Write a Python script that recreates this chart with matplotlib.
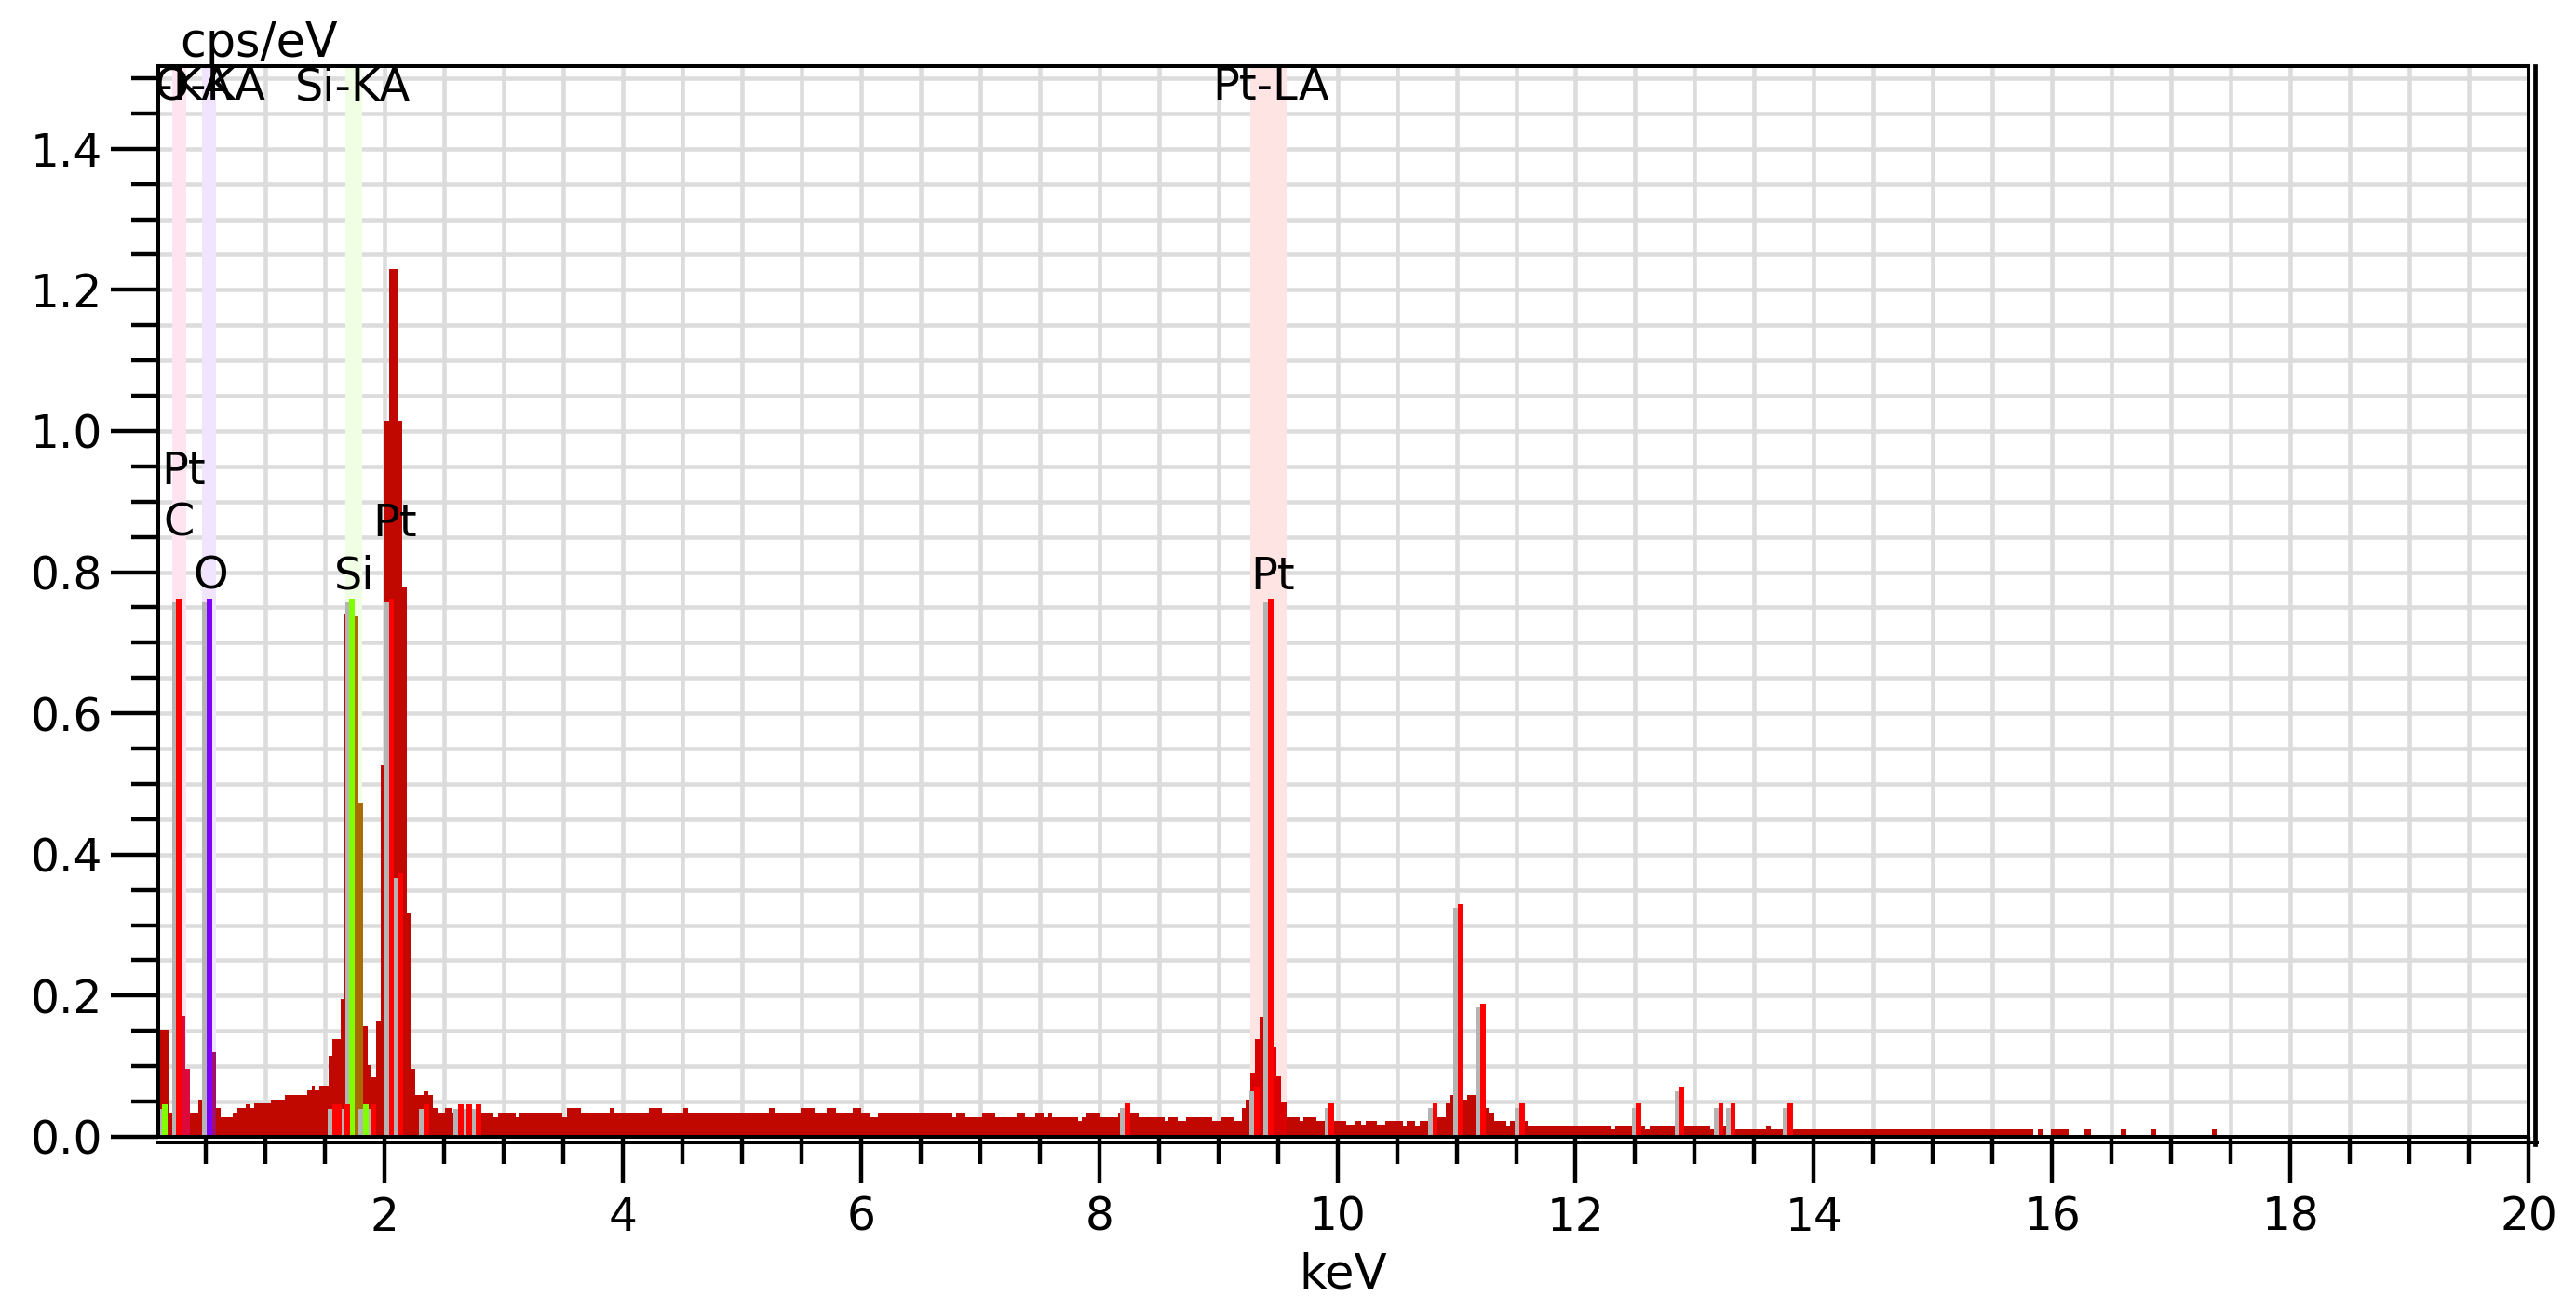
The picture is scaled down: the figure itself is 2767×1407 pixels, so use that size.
import numpy as np
import matplotlib
matplotlib.use("Agg")
import matplotlib.pyplot as plt
from matplotlib.lines import Line2D

plt.rcParams['font.family'] = ['DejaVu Sans']

# EDS spectrum (keV edges, cps/eV)
spec_edges = [0.100, 0.184, 0.218, 0.296, 0.330, 0.366, 0.439, 0.470, 0.556, 0.587,
              0.620, 0.724, 0.763, 0.833, 0.875, 0.906, 1.049, 1.166, 1.347, 1.386,
              1.412, 1.456, 1.529, 1.563, 1.633, 1.667, 1.750, 1.783, 1.822, 1.861,
              1.892, 1.926, 1.965, 1.997, 2.035, 2.105, 2.150, 2.186, 2.225, 2.261,
              2.329, 2.365, 2.406, 2.443, 2.510, 2.573, 2.910, 2.950, 3.100, 3.130,
              3.490, 3.530, 3.650, 3.890, 3.930, 4.220, 4.330, 4.510, 4.550, 5.230,
              5.280, 5.490, 5.610, 5.710, 5.790, 5.930, 6.000, 6.070, 6.140, 6.770,
              6.800, 6.880, 7.020, 7.130, 7.310, 7.380, 7.460, 7.530, 7.570, 7.600,
              7.820, 7.850, 7.890, 8.010, 8.160, 8.330, 8.550, 8.580, 8.660, 8.730,
              8.950, 9.020, 9.130, 9.200, 9.230, 9.266, 9.305, 9.350, 9.377, 9.460,
              9.490, 9.530, 9.573, 9.680, 9.710, 9.820, 9.890, 10.070, 10.140, 10.200,
              10.240, 10.330, 10.400, 10.550, 10.580, 10.650, 10.690, 10.840, 10.910, 10.950,
              11.057, 11.090, 11.240, 11.270, 11.320, 11.420, 11.450, 11.600, 12.290, 12.330,
              12.580, 12.620, 13.130, 13.160, 13.340, 13.600, 13.640, 15.840, 15.880, 15.920,
              15.990, 16.140, 16.260, 16.330, 16.580, 16.620, 16.830, 16.870, 17.340, 17.380]
spec_vals = [0.152, 0.034, 0.170, 0.171, 0.096, 0.034, 0.053, 0.120, 0.120, 0.041,
             0.028, 0.034, 0.041, 0.046, 0.041, 0.047, 0.053, 0.060, 0.066, 0.072,
             0.066, 0.072, 0.115, 0.139, 0.195, 0.740, 0.737, 0.473, 0.157, 0.102,
             0.085, 0.163, 0.526, 1.015, 1.230, 1.015, 0.780, 0.316, 0.096, 0.060,
             0.065, 0.059, 0.041, 0.034, 0.041, 0.034, 0.028, 0.034, 0.028, 0.034,
             0.028, 0.041, 0.034, 0.041, 0.034, 0.041, 0.034, 0.041, 0.034, 0.041,
             0.034, 0.041, 0.034, 0.041, 0.034, 0.041, 0.034, 0.028, 0.034, 0.028,
             0.034, 0.028, 0.034, 0.028, 0.034, 0.028, 0.034, 0.028, 0.034, 0.028,
             0.023, 0.028, 0.034, 0.028, 0.034, 0.028, 0.023, 0.028, 0.023, 0.028,
             0.023, 0.028, 0.023, 0.041, 0.053, 0.091, 0.139, 0.170, 0.170, 0.128,
             0.086, 0.049, 0.028, 0.023, 0.028, 0.023, 0.023, 0.017, 0.023, 0.017,
             0.023, 0.017, 0.022, 0.016, 0.022, 0.016, 0.022, 0.028, 0.047, 0.059,
             0.053, 0.059, 0.041, 0.034, 0.022, 0.016, 0.022, 0.016, 0.011, 0.016,
             0.011, 0.016, 0.011, 0.016, 0.011, 0.016, 0.011, 0.000, 0.011, 0.000,
             0.011, 0.000, 0.011, 0.000, 0.011, 0.000, 0.011, 0.000, 0.011]

# element regions: band limits, band colour, spectrum colour
roi_lo = [0.218, 0.467, 1.674, 9.266]
roi_hi = [0.335, 0.584, 1.815, 9.573]
roi_band = ['#ffe4f0', '#f0e4ff', '#f0ffe4', '#ffe4e4']
roi_spec_lo = [0.290, 0.550, 1.745, 9.260]
roi_spec_hi = [0.370, 0.590, 1.830, 9.580]
roi_spec_col = ['#dc0a3c', '#a0106e', '#a86c00', '#d80000']
roi_names = ['C-KA', 'O-KA', 'Si-KA', 'Pt-LA']
roi_name_x = [0.274, 0.530, 1.730, 9.440]

# line markers (keV, height, colour)
mark_pos = [0.274, 0.530, 1.728, 2.057, 9.438,
            0.155, 1.580, 1.620, 1.689, 1.842, 1.905, 2.130, 2.350, 2.640, 2.710, 2.790,
            8.235, 9.324, 9.950, 10.820, 11.035, 11.220, 11.550, 12.530, 12.890,
            13.220, 13.320, 13.800]
mark_h = [0.763, 0.763, 0.763, 0.763, 0.763,
          0.046, 0.046, 0.046, 0.046, 0.046, 0.046, 0.373, 0.046, 0.046, 0.046, 0.046,
          0.047, 0.070, 0.047, 0.047, 0.330, 0.189, 0.047, 0.047, 0.071,
          0.047, 0.047, 0.047]
mark_col = ['#ff0000', '#8000ff', '#80ff00', '#ff0000', '#ff0000',
            '#80ff00', '#ff0000', '#ff0000', '#ff0000', '#80ff00', '#ff0000', '#ff0000',
            '#ff0000', '#ff0000', '#ff0000', '#ff0000',
            '#ff0000', '#ff0000', '#ff0000', '#ff0000', '#ff0000', '#ff0000', '#ff0000',
            '#ff0000', '#ff0000', '#ff0000', '#ff0000', '#ff0000']

# peak labels
lab_text = ['Pt', 'C', 'O', 'Si', 'Pt', 'Pt']
lab_x = [0.310, 0.276, 0.536, 1.743, 2.087, 9.460]
lab_y = [0.925, 0.851, 0.776, 0.776, 0.851, 0.776]

W, H = 2767, 1407
fig = plt.figure(figsize=(W / 100, H / 100), dpi=100)
L, R, T, B = 170, 2716, 71, 1221
ax = fig.add_axes([L / W, 1 - B / H, (R - L) / W, (B - T) / H])

ax.set_xlim(0.1, 20)
ax.set_ylim(0, 1.517)

# bands
for lo, hi, c in zip(roi_lo, roi_hi, roi_band):
    ax.axvspan(lo, hi, color=c, lw=0, zorder=1)

# spectrum
edges = np.array(spec_edges)
vals = np.array(spec_vals)
ax.stairs(vals, edges, fill=True, color='#c00800', lw=0, zorder=2)
mids = (edges[:-1] + edges[1:]) / 2
for lo, hi, c in zip(roi_spec_lo, roi_spec_hi, roi_spec_col):
    idx = np.where((mids > lo) & (mids < hi))[0]
    if len(idx):
        ax.stairs(vals[idx], edges[idx[0]:idx[-1] + 2], fill=True, color=c, lw=0, zorder=2.1)

# markers: grey shadow first, then colour
for p, h in zip(mark_pos, mark_h):
    ax.bar(p - 0.060, h - 0.006, width=0.038, align='edge', color='#b4b4b4', lw=0, zorder=3)
for p, h, c in zip(mark_pos, mark_h, mark_col):
    ax.bar(p - 0.022, h, width=0.044, align='edge', color=c, lw=0, zorder=3.1)

fs = 34.5
for name, x in zip(roi_names, roi_name_x):
    ax.text(x, 1.469, name, ha='center', va='baseline', fontsize=fs, zorder=5, clip_on=True)
for t, x, y in zip(lab_text, lab_x, lab_y):
    ax.text(x, y, t, ha='center', va='baseline', fontsize=fs, zorder=5)

# ticks and grid
ax.set_xticks(np.arange(2, 21, 2))
ax.set_xticks(np.arange(0.5, 20.01, 0.5), minor=True)
ax.set_yticks(np.arange(0, 1.41, 0.2))
ax.set_yticks(np.arange(0.05, 1.51, 0.05), minor=True)
ax.set_xticklabels([str(v) for v in range(2, 21, 2)])
ax.set_yticklabels(['%.1f' % v for v in np.arange(0, 1.41, 0.2)])
ax.set_axisbelow(True)
ax.grid(which='both', color='#dcdcdc', lw=3.3)
ax.tick_params(axis='both', which='both', direction='out', width=3.2, color='black',
               labelsize=35, top=False, right=False)
ax.tick_params(axis='x', which='major', length=36, pad=9)
ax.tick_params(axis='x', which='minor', length=21)
ax.tick_params(axis='y', which='major', length=37, pad=6)
ax.tick_params(axis='y', which='minor', length=21)
for s in ax.spines.values():
    s.set_linewidth(2.9)
    s.set_zorder(6)

# outer frame line on right and bottom
fig.add_artist(Line2D([L / W, 2725 / W], [1 - 1227 / H, 1 - 1227 / H], color='black', lw=2.9))
fig.add_artist(Line2D([2722.5 / W, 2722.5 / W], [1 - 1229 / H, 1 - T / H], color='black', lw=3.4))

fig.text(1443 / W, 1 - 1383 / H, 'keV', ha='center', va='baseline', fontsize=37)
fig.text(278 / W, 1 - 61 / H, 'cps/eV', ha='center', va='baseline', fontsize=36.5)

fig.savefig('out.png', dpi=100)
